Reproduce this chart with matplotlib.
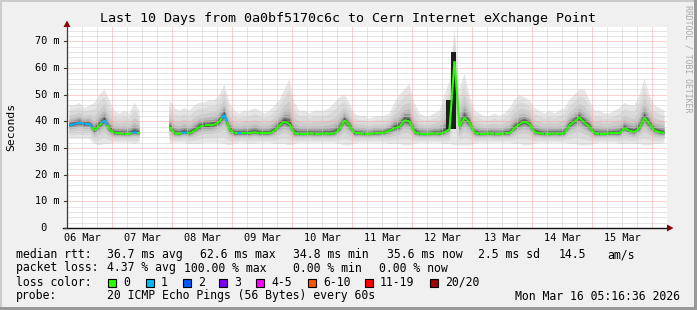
import numpy as np
import matplotlib
matplotlib.use("Agg")
import matplotlib.pyplot as plt
from matplotlib.patches import Rectangle, Polygon
from matplotlib.collections import LineCollection
from matplotlib import transforms

nan = np.nan
W, H = 697, 310

# ---------------- data: 2-hour slots, slot 0 starts 06 Mar 06:00 ----------------
median_ms = (
    [38.5, 39.0, 39.5, 39.0, 39.0, 36.5, 38.5, 40.5, 37.0]                      # 06 Mar
    + [35.5, 35.5, 35.3, 35.3, 36.0, 35.5, nan, nan, nan, nan, nan, 38.0]       # 07 Mar
    + [35.5, 35.3, 36.0, 35.5, 36.5, 38.0, 38.5, 38.5, 38.8, 40.0, 42.5, 37.0]  # 08 Mar
    + [35.5, 35.5, 35.5, 35.5, 36.0, 35.5, 35.5, 35.5, 36.5, 38.5, 40.0, 39.0]  # 09 Mar
    + [35.5, 35.3, 35.3, 35.5, 35.3, 35.3, 35.5, 35.3, 35.5, 37.0, 40.5, 38.5]  # 10 Mar
    + [35.5, 35.5, 35.3, 35.3, 35.5, 35.5, 35.8, 36.5, 37.5, 38.0, 40.5, 40.0]  # 11 Mar
    + [36.0, 35.3, 35.3, 35.3, 35.5, 35.3, 36.0, 37.0, 62.5, 38.0, 41.5, 39.5]  # 12 Mar
    + [35.8, 35.3, 35.3, 35.5, 35.3, 35.3, 35.5, 35.5, 37.5, 39.0, 40.0, 39.0]  # 13 Mar
    + [36.0, 35.5, 35.3, 35.3, 35.5, 35.3, 35.5, 38.5, 40.0, 41.5, 39.5, 38.0]  # 14 Mar
    + [35.5, 35.3, 35.3, 35.5, 35.5, 35.5, 37.5, 36.5, 36.0, 37.5, 41.5, 39.0]  # 15 Mar
    + [36.5, 36.0, 35.6]                                                        # 16 Mar
)
upper_ms = (
    [46, 46, 47, 45, 46, 47, 50, 52, 48]
    + [44, 43, 44, 43, 47, 44, nan, nan, nan, nan, nan, 48]
    + [45, 44, 45, 44, 46, 47, 47, 48, 48, 50, 54, 47]
    + [44, 43, 44, 44, 45, 44, 43, 44, 46, 48, 52, 56]
    + [47, 44, 44, 43, 44, 44, 44, 45, 47, 49, 50, 47]
    + [43, 42, 42, 41, 42, 42, 42, 43, 47, 50, 52, 54]
    + [47, 43, 42, 42, 43, 44, 50, 55, 75, 52, 58, 50]
    + [44, 43, 42, 42, 43, 42, 43, 45, 48, 50, 49, 48]
    + [45, 44, 43, 44, 43, 44, 45, 48, 50, 52, 52, 48]
    + [44, 44, 43, 43, 44, 45, 47, 46, 46, 50, 56, 50]
    + [46, 45, 44]
)
lower_ms = (
    [33.5, 33.5, 33.5, 33.5, 33.5, 31.5, 31.0, 31.5, 31.5]
    + [32.0, 32.0, 32.0, 32.0, 31.5, 32.0, nan, nan, nan, nan, nan, 31.5]
    + [32.0, 32.0, 32.0, 31.5, 31.5, 31.5, 32.0, 32.0, 32.0, 32.0, 31.5, 31.0]
    + [31.5, 32.0, 32.0, 31.5, 31.5, 32.0, 32.0, 32.0, 31.5, 31.5, 31.5, 31.0]
    + [31.5, 32.0, 32.0, 32.0, 32.0, 32.0, 32.0, 32.0, 32.0, 31.5, 31.0, 31.0]
    + [31.5, 32.0, 32.0, 32.0, 32.0, 32.0, 32.0, 31.5, 31.5, 31.5, 31.0, 31.0]
    + [31.5, 32.0, 32.0, 32.0, 32.0, 32.0, 31.5, 31.5, 31.0, 31.0, 31.0, 31.0]
    + [31.5, 32.0, 32.0, 32.0, 32.0, 32.0, 32.0, 32.0, 31.5, 31.5, 31.0, 31.0]
    + [31.5, 32.0, 32.0, 32.0, 32.0, 32.0, 32.0, 31.5, 31.5, 31.0, 31.0, 31.0]
    + [31.5, 32.0, 32.0, 32.0, 32.0, 31.5, 31.5, 31.5, 31.5, 31.5, 31.0, 31.0]
    + [31.5, 31.5, 32.0]
)
loss_cnt = (
    [1, 1, 1, 1, 1, 0, 0, 1, 0]
    + [0, 0, 0, 0, 1, 0, 0, 0, 0, 0, 0, 0]
    + [0, 0, 1, 0, 0, 0, 0, 0, 0, 0, 1, 0]
    + [0, 1, 0, 0, 0, 0, 0, 0, 0, 0, 0, 0]
    + [0] * 12 + [0] * 12 + [0] * 12 + [0] * 12 + [0] * 12 + [0] * 12
    + [0, 0, 0]
)
# dense dark smoke columns during the 12 Mar spike (hour offset, low, high)
spike_hours = [152.6, 154.6]
spike_lo = [37.0, 37.0]
spike_hi = [48.0, 66.0]

day_labels = ["06 Mar", "07 Mar", "08 Mar", "09 Mar", "10 Mar",
              "11 Mar", "12 Mar", "13 Mar", "14 Mar", "15 Mar"]
y_tick_vals = [0, 10, 20, 30, 40, 50, 60, 70]
y_tick_text = [" 0", "10 m", "20 m", "30 m", "40 m", "50 m", "60 m", "70 m"]

loss_names = ["0", "1", "2", "3", "4-5", "6-10", "11-19", "20/20"]
loss_colors = ["#26ff00", "#00b8ff", "#0059ff", "#7e00ff",
               "#ff00ff", "#ff5500", "#ff0000", "#a10000"]

rtt_stats = ["36.7 ms avg", "62.6 ms max", "34.8 ms min", "35.6 ms now", "2.5 ms sd", "14.5", "am/s"]
loss_stats = ["4.37 % avg", "100.00 % max", "0.00 % min", "0.00 % now"]
probe_text = "20 ICMP Echo Pings (56 Bytes) every 60s"
stamp_text = "Mon Mar 16 05:16:36 2026"
title_text = "Last 10 Days from 0a0bf5170c6c to Cern Internet eXchange Point"

# ---------------- figure ----------------
MONO = "DejaVu Sans Mono"
fig = plt.figure(figsize=(W / 100, H / 100), dpi=100)
fig.patch.set_facecolor("#f0f0f0")

def fx(x):
    return x / W

def fy(y):
    return 1 - y / H

# 3D frame
fig.add_artist(Rectangle((0, fy(2)), 1, 2 / H, transform=fig.transFigure, color="#cbcbcb", lw=0))
fig.add_artist(Rectangle((0, 0), 2 / W, 1, transform=fig.transFigure, color="#cbcbcb", lw=0))
fig.add_artist(Rectangle((0, 0), 1, 3 / H, transform=fig.transFigure, color="#999999", lw=0))
fig.add_artist(Rectangle((fx(694), 0), 3 / W, 1, transform=fig.transFigure, color="#999999", lw=0))

X0, X1, YB, YT = 67, 667, 228, 27
ax = fig.add_axes([fx(X0), fy(YB), (X1 - X0) / W, (YB - YT) / H])
ax.set_facecolor("white")
for s in ax.spines.values():
    s.set_visible(False)
ax.tick_params(length=0, labelleft=False, labelbottom=False)
ax.set_xlim(0, 240)
ax.set_ylim(0, 75.4)

hours = np.arange(len(median_ms)) * 2 + 1.0
med = np.array(median_ms, dtype=float)
hi = np.array(upper_ms, dtype=float)
lo = np.array(lower_ms, dtype=float)
valid = ~np.isnan(med)

# smoke: shades from the envelope in towards the median
fracs = [1.0, 0.75, 0.5, 0.32, 0.2, 0.11, 0.05]
shades = ["#e6e6e6", "#dadada", "#cccccc", "#bababa", "#9c9c9c", "#6a6a6a", "#333333"]
for f, c in zip(fracs, shades):
    ax.fill_between(hours, med - (med - lo) * f, med + (hi - med) * f,
                    where=valid, color=c, lw=0, zorder=1, interpolate=False)

# grid
minor_y = [v for v in range(2, 76, 2) if v % 10]
major_y = list(range(10, 76, 10))
minor_x = [h for h in range(6, 240, 6) if (h - 18) % 24]
major_x = list(range(18, 240, 24))
dot = (0, (1, 1))
ax.hlines(minor_y, 0, 240, colors="#cccccc", lw=0.72, linestyles=dot, zorder=2)
ax.vlines(minor_x, 0, 75.4, colors="#cccccc", lw=0.72, linestyles=dot, zorder=2)
ax.hlines(major_y, 0, 240, colors="#ffa0a0", lw=0.72, linestyles=dot, zorder=2.1)
ax.vlines(major_x, 0, 75.4, colors="#ffa0a0", lw=0.72, linestyles=dot, zorder=2.1)

ax.bar(spike_hours, np.array(spike_hi) - np.array(spike_lo), bottom=spike_lo,
       width=2.05, color="#1e1e1e", lw=0, zorder=2.5)

# median line coloured by loss
def bucket(n):
    if n <= 3:
        return n
    if n <= 5:
        return 4
    if n <= 10:
        return 5
    if n <= 19:
        return 6
    return 7

segs, cols = [], []
for i in range(len(med) - 1):
    if valid[i] and valid[i + 1]:
        mx = (hours[i] + hours[i + 1]) / 2
        my = (med[i] + med[i + 1]) / 2
        segs.append([(hours[i], med[i]), (mx, my)])
        cols.append(loss_colors[bucket(loss_cnt[i])])
        segs.append([(mx, my), (hours[i + 1], med[i + 1])])
        cols.append(loss_colors[bucket(loss_cnt[i + 1])])
ax.add_collection(LineCollection(segs, colors=cols, linewidths=1.5, zorder=3, capstyle="butt"))

# axes lines and arrows
ax.plot([0, 0], [0, 75.4], color="#3a3a3a", lw=0.9, zorder=5, clip_on=False)
ax.plot([-1.6, 241], [0, 0], color="#111111", lw=1.0, zorder=5, clip_on=False)
fig.add_artist(Polygon([(fx(63.5), fy(27)), (fx(70.5), fy(27)), (fx(67), fy(20.5))],
                       closed=True, transform=fig.transFigure, color="#8b0000", lw=0))
fig.add_artist(Polygon([(fx(667), fy(224.5)), (fx(667), fy(231.5)), (fx(673.5), fy(228))],
                       closed=True, transform=fig.transFigure, color="#8b0000", lw=0))

ytr = transforms.blended_transform_factory(fig.transFigure, ax.transData)
for v in y_tick_vals:
    ax.plot([-1.3, 0], [v, v], color="#3a3a3a", lw=0.8, clip_on=False, zorder=5)
for v, t in zip(y_tick_vals, y_tick_text):
    fig.text(fx(35), v, t, transform=ytr, family=MONO, fontsize=7.4, ha="left", va="center")

xtr = transforms.blended_transform_factory(ax.transData, fig.transFigure)
for i, t in enumerate(day_labels):
    fig.text(6 + 24 * i, fy(238), t, transform=xtr, family=MONO, fontsize=7.4,
             ha="center", va="center")

fig.text(fx(348), fy(18.5), title_text, family=MONO, fontsize=9.6, ha="center", va="center")
fig.text(fx(11), fy(127), "Seconds", family=MONO, fontsize=8.2, rotation=90, ha="center", va="center")
fig.text(fx(688), fy(59), "RRDTOOL / TOBI OETIKER", family=MONO, fontsize=5.9, rotation=-90,
         ha="center", va="center", color="#a8a8a8")

# legend
LF = 8.3
fig.text(fx(16), fy(254.5), "median rtt:", family=MONO, fontsize=LF, va="center")
for t, x in zip(rtt_stats, [107, 200, 293, 387, 478, 559, 607]):
    fig.text(fx(x), fy(254.5), t, family=MONO, fontsize=LF, va="center")
fig.text(fx(16), fy(268), "packet loss:", family=MONO, fontsize=LF, va="center")
for t, x in zip(loss_stats, [107, 184, 293, 379]):
    fig.text(fx(x), fy(268), t, family=MONO, fontsize=LF, va="center")
fig.text(fx(16), fy(282), "loss color:", family=MONO, fontsize=LF, va="center")
for name, col, x in zip(loss_names, loss_colors, [108, 146, 183, 219, 256, 308, 365, 430]):
    fig.add_artist(Rectangle((fx(x), fy(286.5)), 8 / W, 8 / H, transform=fig.transFigure,
                             facecolor=col, edgecolor="black", lw=0.8))
    fig.text(fx(x + 15), fy(282), name, family=MONO, fontsize=LF, va="center")
fig.text(fx(16), fy(296), "probe:", family=MONO, fontsize=LF, va="center")
fig.text(fx(107), fy(296), probe_text, family=MONO, fontsize=LF, va="center")
fig.text(fx(680), fy(296), stamp_text, family=MONO, fontsize=LF, va="center", ha="right")

fig.savefig("out.png", dpi=100, facecolor=fig.get_facecolor())
